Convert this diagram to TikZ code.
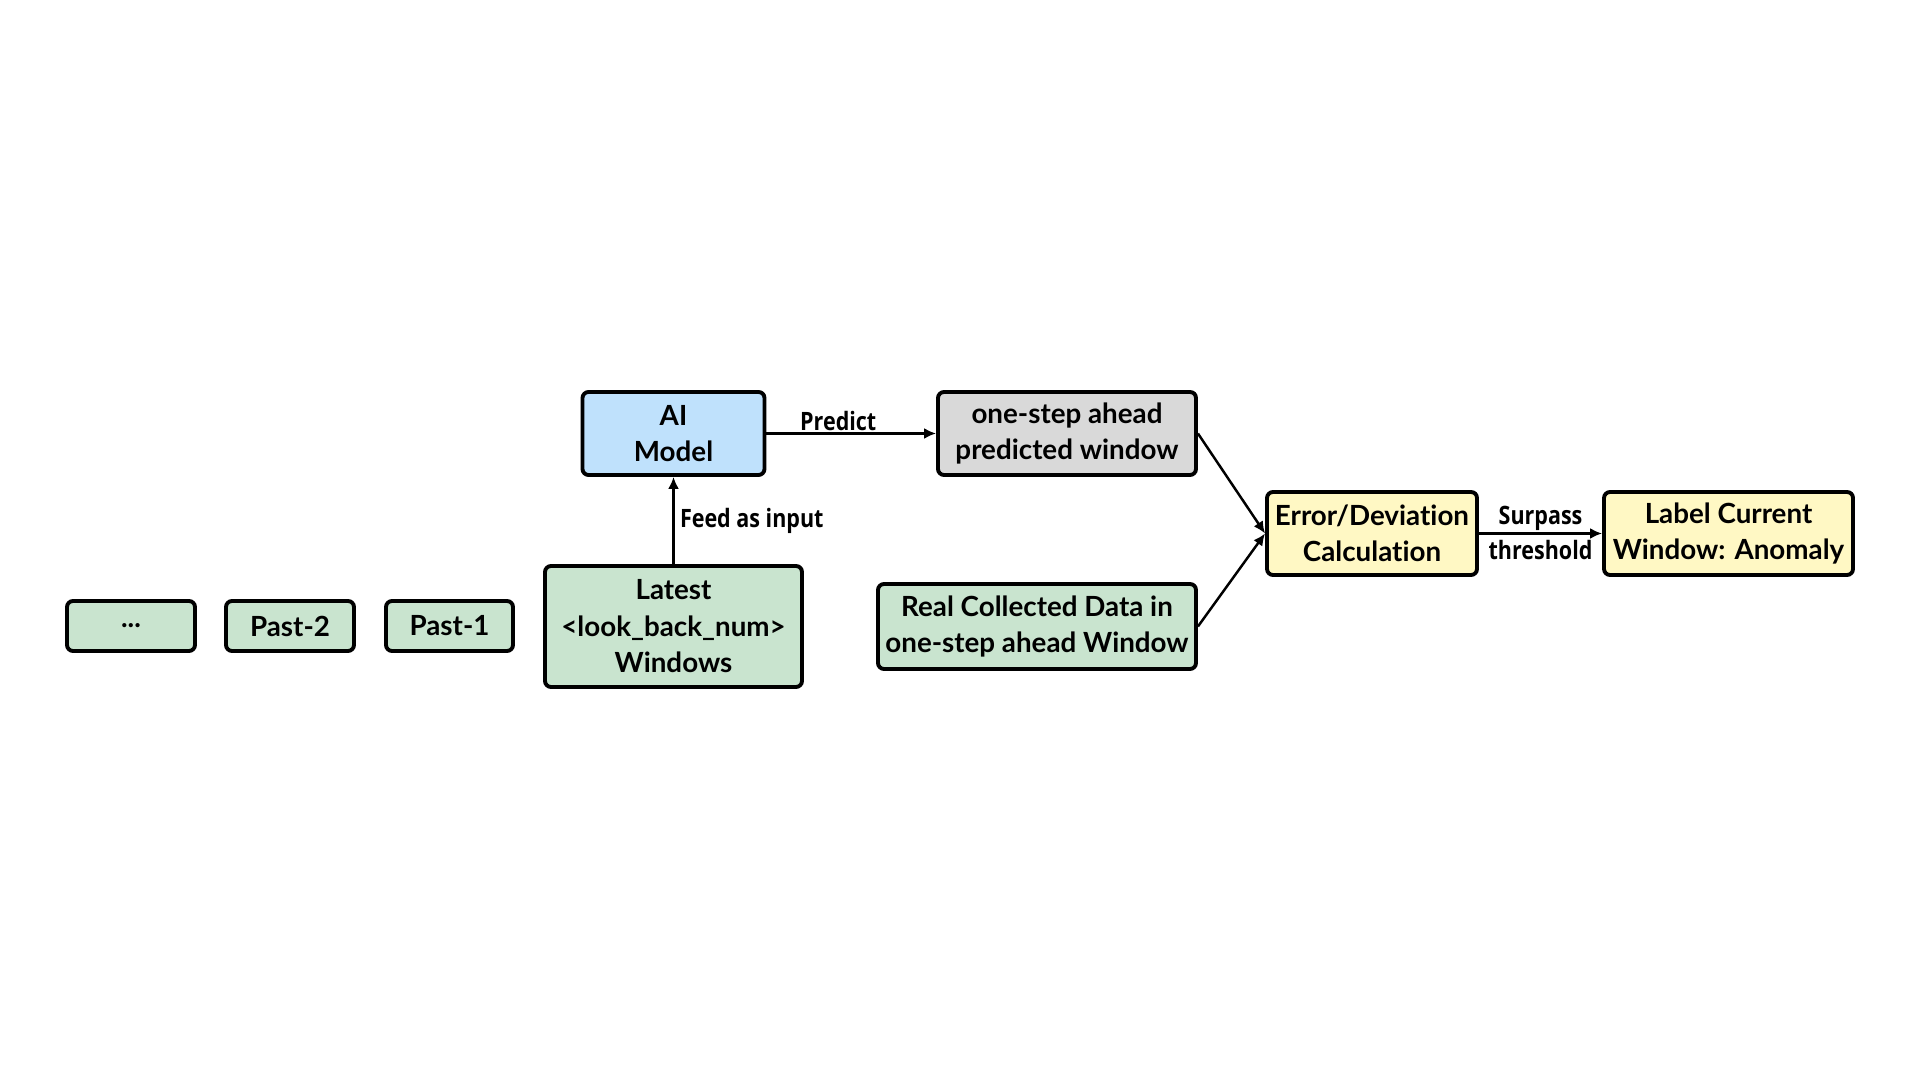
\documentclass[tikz,border=0pt]{standalone}
\usepackage{fontspec}
\setmainfont{Lato}[Ligatures=NoCommon]
\newfontfamily\lblfont[FakeStretch=0.85]{Open Sans}
\usetikzlibrary{arrows.meta}
\definecolor{winGreen}{RGB}{201,228,207}
\definecolor{modelBlue}{RGB}{191,225,252}
\definecolor{predGray}{RGB}{217,217,217}
\definecolor{calcYellow}{RGB}{255,248,196}
\tikzset{
	box/.style={draw, line width=1.1pt, rounded corners=0.6mm, inner sep=0pt, align=center,
		minimum height=0.83cm, font=\fontsize{7.9}{10.4}\selectfont\bfseries},
	flow/.style={-{Latex[length=1.2mm,width=1.1mm]}, line width=0.7pt},
	lbl/.style={font=\lblfont\fontsize{7.2}{8.4}\selectfont\bfseries, inner sep=1.5pt}
}

\begin{document}
\begin{tikzpicture}
		\useasboundingbox (0,0) rectangle (19.2,10.8);
		\node[box, fill=winGreen, minimum width=1.28cm, minimum height=0.5cm] (dots) at (1.31,4.54) {...};
		\node[box, fill=winGreen, minimum width=1.28cm, minimum height=0.5cm] (past2) at (2.90,4.54) {Past-2};
		\node[box, fill=winGreen, minimum width=1.27cm, minimum height=0.5cm] (past1) at (4.495,4.54) {Past-1};
		\node[box, fill=winGreen, minimum width=2.57cm, minimum height=1.21cm] (latest) at (6.735,4.535) {Latest\\<look\_back\_num>\\Windows};
		\node[box, fill=modelBlue, minimum width=1.82cm] (model) at (6.735,6.465) {AI\\Model};
		\node[box, fill=predGray, minimum width=2.58cm] (pred) at (10.67,6.465) {one-step ahead\\predicted window};
		\node[box, fill=winGreen, minimum width=3.18cm, minimum height=0.85cm] (real) at (10.37,4.535) {Real Collected Data in\\one-step ahead Window};
		\node[box, fill=calcYellow, minimum width=2.10cm] (calc) at (13.72,5.465) {Error/Deviation\\Calculation};
		\node[box, fill=calcYellow, minimum width=2.49cm] (anomaly) at (17.285,5.465) {Label Current\\Window: Anomaly};
		\draw[flow] (latest) -- node[lbl, right] {Feed as input} (model);
		\draw[flow] (model) -- node[lbl, above, inner sep=0.5pt, xshift=-0.13cm] {Predict} (pred);
		\draw[flow] (calc) -- node[lbl, above, inner sep=0.5pt] {Surpass} node[lbl, below] {threshold} (anomaly);
		\draw[flow] (pred.east) -- (calc.west);
		\draw[flow] (real.east) -- (calc.west);
	\end{tikzpicture}
\end{document}
